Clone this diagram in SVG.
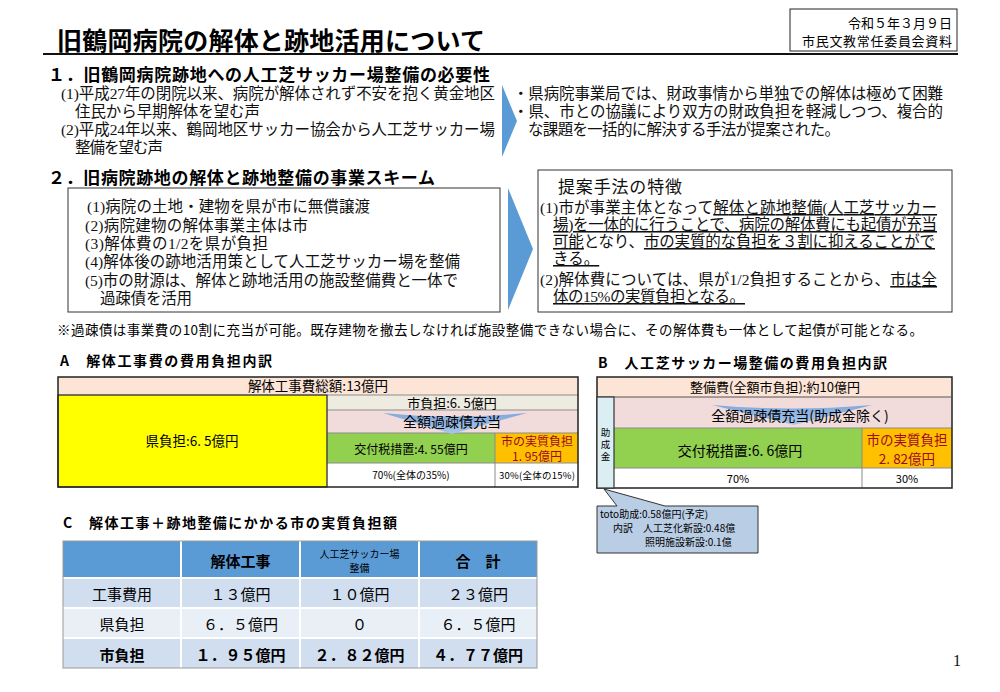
<svg xmlns="http://www.w3.org/2000/svg" width="1000" height="692" viewBox="0 0 1000 692">
<defs>
<style>
.s{font-family:"Noto Sans CJK JP","Noto Sans CJK SC",sans-serif;fill:#000}
.m{font-family:"Liberation Serif","Noto Sans CJK JP",serif;fill:#111}
.b{font-weight:bold}
.c{text-anchor:middle}
.r{text-anchor:end}
.red{fill:#9C0A1E}
.u{text-decoration:underline}
.grid{stroke:#8c8c8c;stroke-width:1;fill:none}
.wg{stroke:#fff;stroke-width:2}
.arrow{fill:#5B9BD5}
</style>
<linearGradient id="dg" x1="0" y1="0" x2="0" y2="1">
<stop offset="0" stop-color="#7FA8DC"/>
<stop offset="1" stop-color="#A9C6EA"/>
</linearGradient>
</defs>
<rect width="1000" height="692" fill="#fff"/>

<g id="header">
<rect x="790" y="9" width="167" height="42" fill="#fff" stroke="#222" stroke-width="1"/>
<text class="s r" x="952" y="28" font-size="13">令和５年３月９日</text>
<text class="s r" x="952" y="46" font-size="13" textLength="150">市民文教常任委員会資料</text>
<text class="s b" x="57" y="50" font-size="25" textLength="428">旧鶴岡病院の解体と跡地活用について</text>
<line x1="43" y1="54" x2="958" y2="54" stroke="#111" stroke-width="2"/>
</g>

<g id="section1">
<text class="s b" x="48" y="81" font-size="17" textLength="442">１．旧鶴岡病院跡地への人工芝サッカー場整備の必要性</text>
<text class="m" x="61" y="99" font-size="15.5" textLength="434">(1)平成27年の閉院以来、病院が解体されず不安を抱く黄金地区</text>
<text class="m" x="75" y="117" font-size="15.5" textLength="185">住民から早期解体を望む声</text>
<text class="m" x="61" y="135" font-size="15.5" textLength="434">(2)平成24年以来、鶴岡地区サッカー協会から人工芝サッカー場</text>
<text class="m" x="75" y="153" font-size="15.5" textLength="88">整備を望む声</text>
<text class="m" x="513" y="99" font-size="15.5" textLength="430">・県病院事業局では、財政事情から単独での解体は極めて困難</text>
<text class="m" x="513" y="117" font-size="15.5" textLength="430">・県、市との協議により双方の財政負担を軽減しつつ、複合的</text>
<text class="m" x="528" y="135" font-size="15.5" textLength="312">な課題を一括的に解決する手法が提案された。</text>
</g>

<g id="section2">
<text class="s b" x="48" y="184" font-size="17" textLength="387">２．旧病院跡地の解体と跡地整備の事業スキーム</text>
<rect x="68" y="188" width="432" height="124" fill="#fff" stroke="#333" stroke-width="1"/>
<text class="m" x="87" y="212" font-size="15.5" textLength="283">(1)病院の土地・建物を県が市に無償譲渡</text>
<text class="m" x="85" y="231" font-size="15.5" textLength="223">(2)病院建物の解体事業主体は市</text>
<text class="m" x="85" y="249" font-size="15.5" textLength="183">(3)解体費の1/2を県が負担</text>
<text class="m" x="85" y="267" font-size="15.5" textLength="375">(4)解体後の跡地活用策として人工芝サッカー場を整備</text>
<text class="m" x="85" y="286" font-size="15.5" textLength="373">(5)市の財源は、解体と跡地活用の施設整備費と一体で</text>
<text class="m" x="100" y="304" font-size="15.5" textLength="92">過疎債を活用</text>

<rect x="538" y="170" width="414" height="142" fill="#fff" stroke="#333" stroke-width="1"/>
<text class="m" x="558" y="193" font-size="17" textLength="124">提案手法の特徴</text>
<text class="m" x="540" y="213" font-size="15.5" textLength="397">(1)市が事業主体となって<tspan class="u">解体と跡地整備(人工芝サッカー</tspan></text>
<text class="m" x="553" y="230" font-size="15.5" textLength="384"><tspan class="u">場)を一体的に行うことで、病院の解体費にも起債が充当</tspan></text>
<text class="m" x="553" y="247" font-size="15.5" textLength="382"><tspan class="u">可能</tspan>となり、<tspan class="u">市の実質的な負担を３割に抑えることがで</tspan></text>
<text class="m" x="553" y="264" font-size="15.5"><tspan class="u">きる。</tspan></text>
<text class="m" x="540" y="285" font-size="15.5" textLength="397">(2)解体費については、県が1/2負担することから、<tspan class="u">市は全</tspan></text>
<text class="m" x="553" y="302" font-size="15.5" textLength="192"><tspan class="u">体の15%の実質負担となる。</tspan></text>

<text class="s" x="57" y="335" font-size="13.5" textLength="866">※過疎債は事業費の10割に充当が可能。既存建物を撤去しなければ施設整備できない場合に、その解体費も一体として起債が可能となる。</text>
</g>

<g id="connectors">
<polygon class="arrow" points="502,85 517,121 502,157"/>
<polygon class="arrow" points="508,188 533,249 508,310"/>
</g>

<g id="tableA">
<text class="s b" x="60" y="366" font-size="14" textLength="212">A　解体工事費の費用負担内訳</text>
<rect x="58" y="377" width="520" height="18" fill="#FCE4D6"/>
<rect x="58" y="395" width="269" height="92" fill="#FFFF00"/>
<rect x="327" y="395" width="251" height="15" fill="#EEECE1"/>
<rect x="327" y="410" width="251" height="23" fill="#F2DCDB"/>
<rect x="327" y="433" width="168" height="30" fill="#92D050"/>
<rect x="495" y="433" width="83" height="30" fill="#FFC000"/>
<rect x="327" y="463" width="251" height="24" fill="#fff"/>
<path class="grid" d="M58,395H578M327,395V487M327,410H578M327,433H578M327,463H578M495,433V487"/>
<rect x="58" y="377" width="520" height="110" fill="none" stroke="#222" stroke-width="1.5"/>
<rect x="58" y="395" width="269" height="92" fill="none" stroke="#222" stroke-width="1"/>
<path d="M383,413 Q452,420 527,413 L452,434 Z" fill="url(#dg)"/>
<text class="s c" x="318" y="391" font-size="13.5">解体工事費総額:13億円</text>
<text class="s c" x="192" y="446" font-size="13.5">県負担:6. 5億円</text>
<text class="s c" x="452" y="407.5" font-size="13">市負担:6. 5億円</text>
<text class="s c" x="452" y="427" font-size="14">全額過疎債充当</text>
<text class="s c" x="411" y="454" font-size="12">交付税措置:4. 55億円</text>
<text class="s c red" x="537" y="446" font-size="12">市の実質負担</text>
<text class="s c red" x="537" y="461" font-size="12">1. 95億円</text>
<text class="s c" x="411" y="479" font-size="10">70%(全体の35%)</text>
<text class="s c" x="537" y="479" font-size="9.5" textLength="76">30%(全体の15%)</text>
</g>

<g id="tableB">
<text class="s b" x="598" y="368" font-size="14" textLength="289">B　人工芝サッカー場整備の費用負担内訳</text>
<rect x="597" y="377" width="355" height="20" fill="#FCE4D6"/>
<rect x="614" y="397" width="338" height="31" fill="#F2DCDB"/>
<rect x="614" y="428" width="248" height="40" fill="#92D050"/>
<rect x="862" y="428" width="90" height="40" fill="#FFC000"/>
<rect x="614" y="468" width="338" height="20" fill="#fff"/>
<path class="grid" d="M614,428H952M614,468H952M862,428V488"/>
<rect x="597" y="377" width="355" height="111" fill="none" stroke="#222" stroke-width="1.5"/>
<line x1="597" y1="397" x2="952" y2="397" stroke="#555" stroke-width="1"/>
<path d="M712,405 Q790,412 872,405 L794,425 Z" fill="url(#dg)"/>
<text class="s c" x="775" y="392" font-size="13">整備費(全額市負担):約10億円</text>
<text class="s c" x="800" y="421" font-size="14">全額過疎債充当(助成金除く)</text>
<text class="s c" x="740" y="456" font-size="14">交付税措置:6. 6億円</text>
<text class="s c red" x="907" y="445" font-size="13.5">市の実質負担</text>
<text class="s c red" x="907" y="464" font-size="13.5">2. 82億円</text>
<text class="s c" x="738" y="483" font-size="11">70%</text>
<text class="s c" x="907" y="483" font-size="11">30%</text>
</g>

<g id="subsidy">
<rect x="597" y="397" width="17" height="91" fill="#DAEEF3" stroke="#333" stroke-width="1.2"/>
<text class="s c" x="605.5" y="436" font-size="9.5">助</text>
<text class="s c" x="605.5" y="448" font-size="9.5">成</text>
<text class="s c" x="605.5" y="460" font-size="9.5">金</text>
</g>

<g id="callout">
<path d="M597,506 H617 L604,489 L665,506 H758 V553 H597 Z" fill="#B9CDE5" stroke="#333" stroke-width="1"/>
<text class="s" x="600" y="518" font-size="10">toto助成:0.58億円(予定)</text>
<text class="s" x="613" y="532" font-size="10">内訳　人工芝化新設:0.48億</text>
<text class="s" x="645" y="546" font-size="10">照明施設新設:0.1億</text>
</g>

<g id="tableC">
<text class="s b" x="63" y="528" font-size="14" textLength="334">C　解体工事＋跡地整備にかかる市の実質負担額</text>
<rect x="63" y="541" width="474" height="36" fill="#5B9BD5"/>
<rect x="63" y="577" width="474" height="31" fill="#D0DEEF"/>
<rect x="63" y="608" width="474" height="30" fill="#E9EFF7"/>
<rect x="63" y="638" width="474" height="30" fill="#D0DEEF"/>
<path class="wg" d="M181,541V668M300,541V668M419,541V668M63,578H537M63,608H537M63,638H537"/>
<rect x="63" y="541" width="474" height="127" fill="none" stroke="#9a9a9a" stroke-width="1"/>
<text class="s b c" x="240.5" y="567" font-size="15">解体工事</text>
<text class="s c" x="359.5" y="558" font-size="10">人工芝サッカー場</text>
<text class="s c" x="359.5" y="572" font-size="10">整備</text>
<text class="s b c" x="478" y="567" font-size="15">合　計</text>
<text class="s c" x="122" y="600" font-size="15">工事費用</text>
<text class="s c" x="240.5" y="600" font-size="15">１３億円</text>
<text class="s c" x="359.5" y="600" font-size="15">１０億円</text>
<text class="s c" x="478" y="600" font-size="15">２３億円</text>
<text class="s c" x="122" y="630" font-size="15">県負担</text>
<text class="s c" x="240.5" y="630" font-size="15">６．５億円</text>
<text class="s c" x="359.5" y="630" font-size="15">０</text>
<text class="s c" x="478" y="630" font-size="15">６．５億円</text>
<text class="s b c" x="122" y="661" font-size="15">市負担</text>
<text class="s b c" x="240.5" y="661" font-size="15">１．９５億円</text>
<text class="s b c" x="359.5" y="661" font-size="15">２．８２億円</text>
<text class="s b c" x="478" y="661" font-size="15">４．７７億円</text>
</g>

<text class="m" x="957" y="666" font-size="16" text-anchor="middle">1</text>
</svg>
